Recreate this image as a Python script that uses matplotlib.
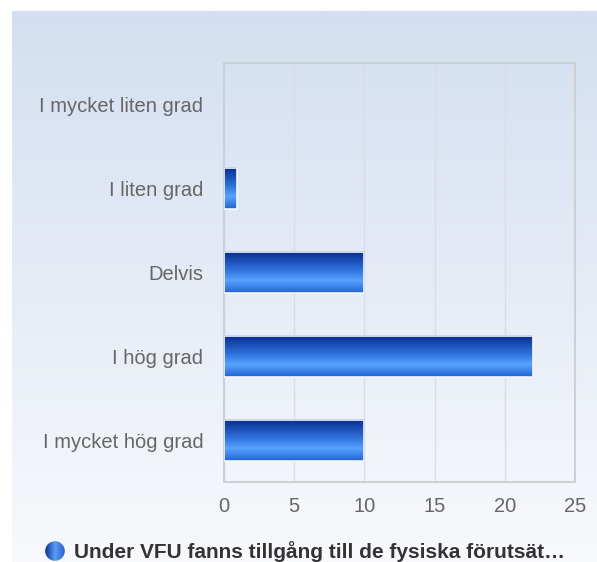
import numpy as np
import matplotlib
matplotlib.use('Agg')
import matplotlib.pyplot as plt
from matplotlib.colors import LinearSegmentedColormap
from matplotlib.patches import Circle

# Data
categories = ['I mycket liten grad', 'I liten grad', 'Delvis', 'I hög grad', 'I mycket hög grad']
values = [0, 0.9, 10, 22, 10]
xticks = [0, 5, 10, 15, 20, 25]
legend_label = 'Under VFU fanns tillgång till de fysiska förutsät…'

plt.rcParams['font.family'] = ['Liberation Sans', 'DejaVu Sans']

W, H = 597, 562
fig = plt.figure(figsize=(W / 100, H / 100), dpi=100)

# background panel with vertical gradient
bg = fig.add_axes([12 / W, 0, 1 - 12 / W, 1 - 11 / H])
bg_cmap = LinearSegmentedColormap.from_list('bg', ['#f8f9fc', '#d3dff0'])
bg.imshow(np.linspace(0, 1, 256).reshape(-1, 1), cmap=bg_cmap, aspect='auto',
          origin='lower', extent=[0, 1, 0, 1])
bg.set_axis_off()

# plot area
left, right, top, bottom = 224, 575, 63, 482
ax = fig.add_axes([left / W, 1 - bottom / H, (right - left) / W, (bottom - top) / H])
ax.patch.set_alpha(0)

bar_cmap = LinearSegmentedColormap.from_list(
    'bar', [(0, '#1f63d2'), (0.3, '#58a2ff'), (0.55, '#2f72dc'), (1, '#062a8c')])
grad = np.linspace(0, 1, 256).reshape(-1, 1)
n = len(categories)
bh = 0.49
for i, (cat, v) in enumerate(zip(categories, values)):
    y = n - 1 - i
    if v <= 0:
        continue
    ax.imshow(grad, cmap=bar_cmap, aspect='auto', origin='lower',
              extent=[0, v, y - bh / 2, y + bh / 2], zorder=3)
    ax.add_patch(plt.Rectangle((0, y - bh / 2), v, bh, fill=False,
                               edgecolor='#f4f7ff', linewidth=1.2, zorder=4))

ax.set_xlim(0, 25)
ax.set_ylim(-0.5, n - 0.5)
ax.set_yticks(range(n))
ax.set_yticklabels(categories[::-1])
ax.set_xticks(xticks)
ax.tick_params(axis='both', length=0, colors='#666666', labelsize=14.5)
ax.tick_params(axis='y', pad=15)
ax.tick_params(axis='x', pad=11)
ax.grid(axis='x', color='#dcdde3', linewidth=1, zorder=0)
ax.set_axisbelow(True)
for s in ['top', 'right', 'bottom']:
    ax.spines[s].set_color('#cfd0d4')
    ax.spines[s].set_linewidth(1.5)
ax.spines['left'].set_color('#c6cfe3')
ax.spines['left'].set_linewidth(1.5)

# legend marker: small glossy circle
r = 10
lax = fig.add_axes([(55 - r) / W, 1 - (551 + r) / H, 2 * r / W, 2 * r / H])
lax.set_axis_off()
dot_cmap = LinearSegmentedColormap.from_list('dot', ['#0b2f99', '#5a9cf5', '#2a63cf'])
img = lax.imshow(np.linspace(0, 1, 64).reshape(1, -1), cmap=dot_cmap, aspect='auto',
                 extent=[-1, 1, -1, 1])
clip = Circle((0, 0), 0.98, transform=lax.transData)
img.set_clip_path(clip)
lax.set_xlim(-1, 1)
lax.set_ylim(-1, 1)
fig.text(74 / W, 1 - 552 / H, legend_label, fontsize=15, fontweight='bold',
         color='#333333', va='center', ha='left')

fig.savefig('out.png', dpi=100)
